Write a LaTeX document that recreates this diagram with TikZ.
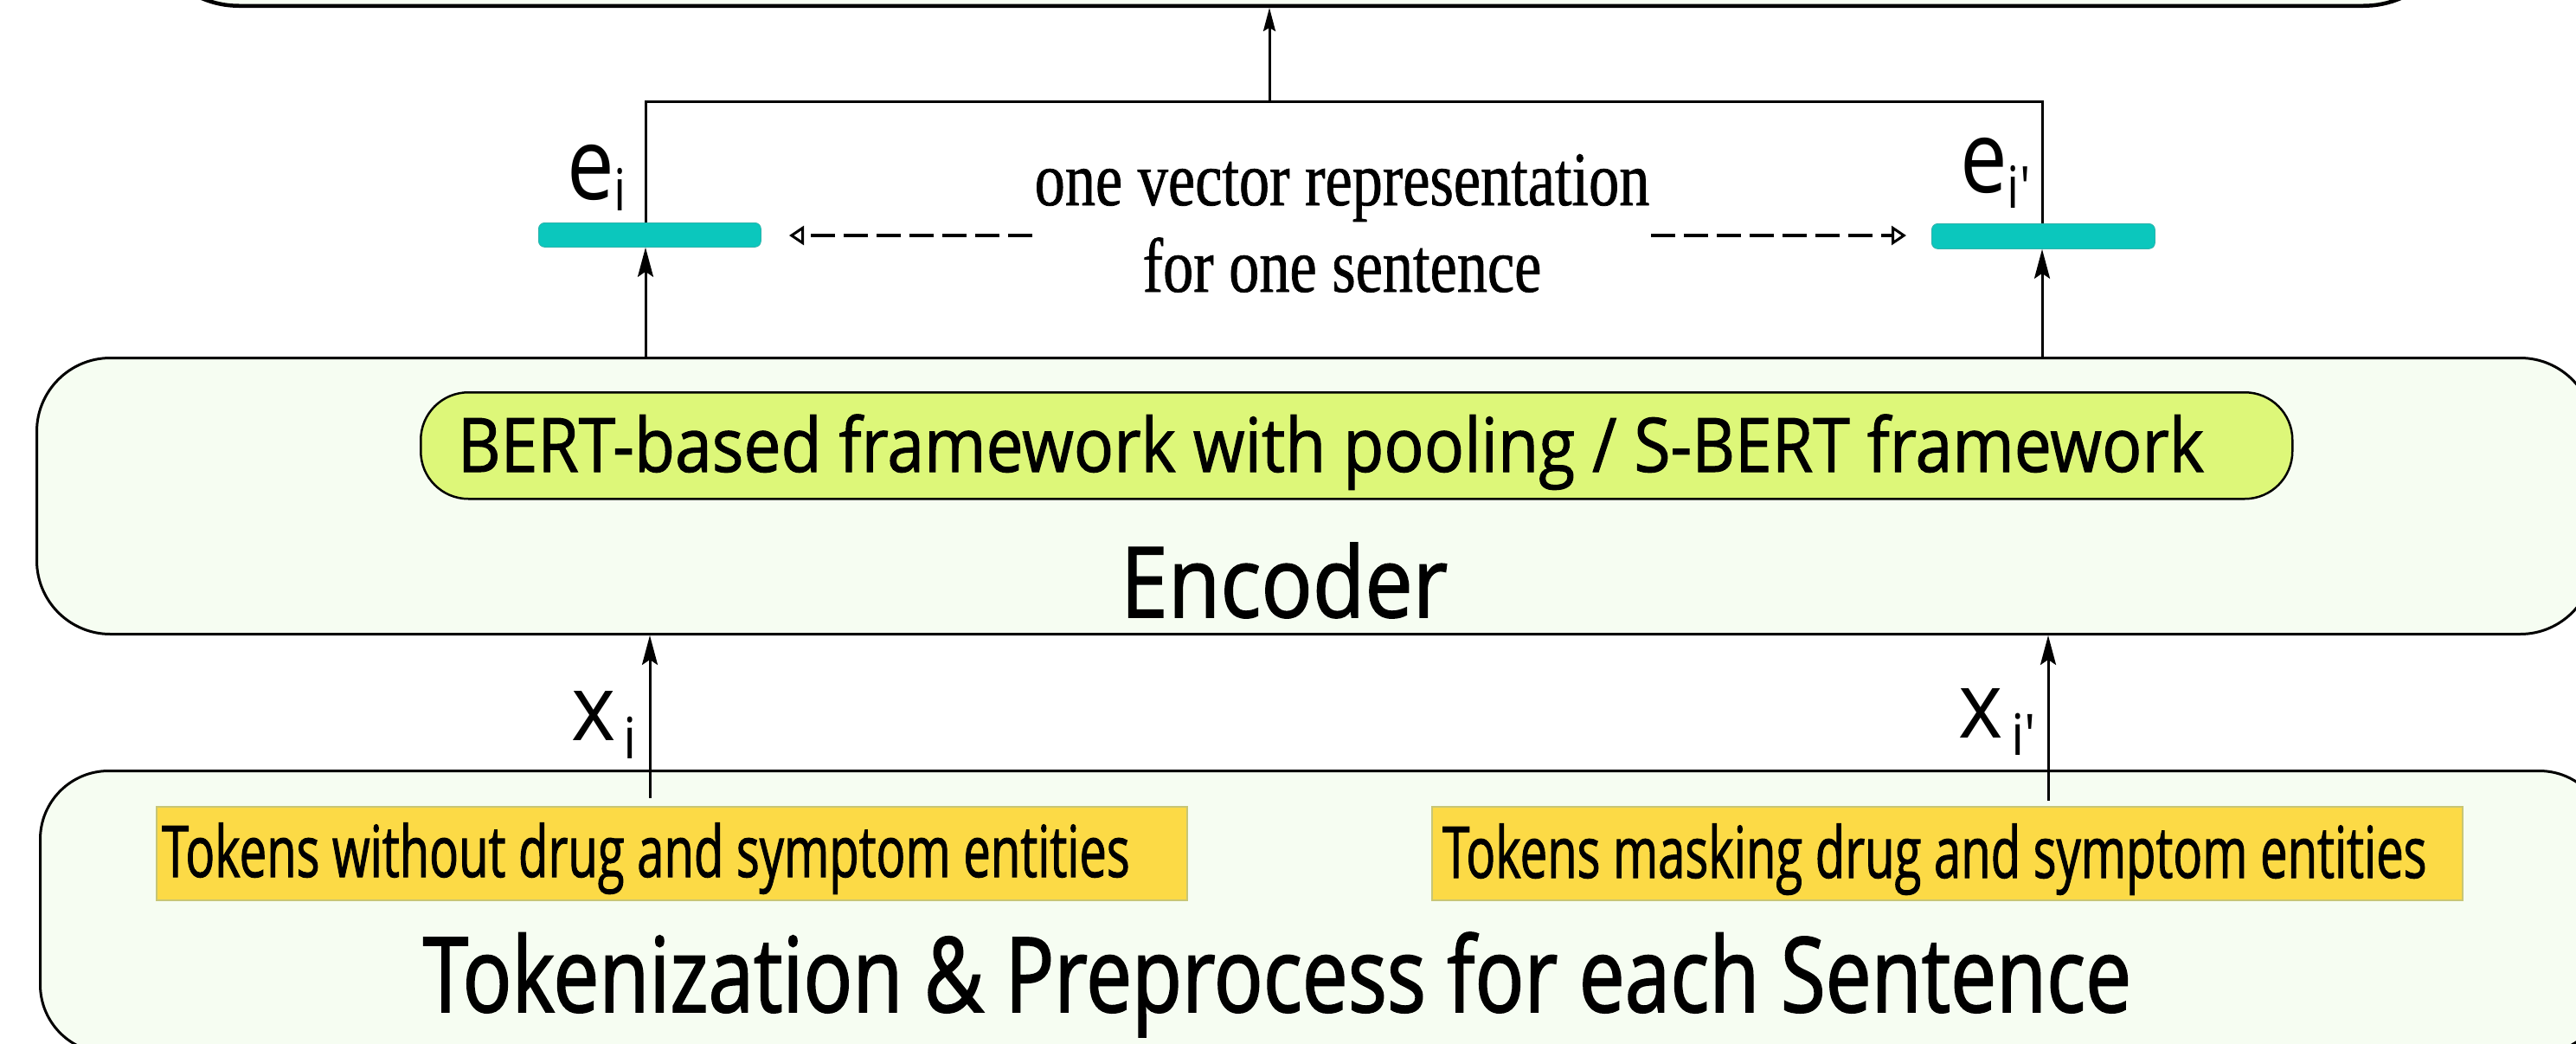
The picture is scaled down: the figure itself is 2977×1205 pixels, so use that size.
\documentclass[tikz,border=0pt]{standalone}
\usepackage{fontspec}
\usetikzlibrary{arrows.meta}
\newfontfamily\fBert{Open Sans}[FakeStretch=0.885,FakeBold=1.2]
\newfontfamily\fEnc{Open Sans}[FakeStretch=0.87,FakeBold=1.4]
\newfontfamily\fTok{Open Sans}[FakeStretch=0.785,FakeBold=1.4]
\newfontfamily\fTks{Open Sans}[FakeStretch=0.68,FakeBold=1.2]
\newfontfamily\fLabE{Open Sans}[FakeStretch=0.84,Ligatures=TeXOff]
\newfontfamily\fLabX{Open Sans}[FakeStretch=0.92,Ligatures=TeXOff]
\newfontfamily\fSer{Liberation Serif}[FakeStretch=0.79,FakeBold=0.8]
\definecolor{boxfill}{HTML}{F6FDF2}
\definecolor{bertfill}{HTML}{DDF779}
\definecolor{tokfill}{HTML}{FCDA46}
\definecolor{tokline}{HTML}{C8C675}
\definecolor{barfill}{HTML}{0BC7BD}
\tikzset{
  bigbox/.style={draw=black, line width=3pt, fill=boxfill, inner sep=0pt},
  topbox/.style={draw=black, line width=4.5pt, fill=boxfill, inner sep=0pt, rounded corners=110pt},
  bertbox/.style={draw=black, line width=2.5pt, fill=bertfill, inner sep=0pt, rounded corners=55pt},
  tokbox/.style={draw=tokline, line width=1.5pt, fill=tokfill, inner sep=0pt},
  vecbar/.style={fill=barfill, draw=barfill!70!gray, line width=0.8pt, inner sep=0pt, rounded corners=7pt},
  conn/.style={draw=black, line width=3pt},
  uparr/.style={conn, -{Stealth[length=34pt, width=18pt, inset=6pt]}},
  topuparr/.style={conn, -{Stealth[length=27pt, width=14pt, inset=4pt]}},
  dasharr/.style={draw=black, line width=4pt, dash pattern=on 28pt off 10pt, -{Triangle[open, length=17pt, width=22pt, line width=3pt]}},
  txt/.style={inner sep=0pt, text=black},
}
\begin{document}
\begin{tikzpicture}[x=1pt, y=-1pt]
\useasboundingbox (0,0) rectangle (2977,1205);
% boxes
\node[topbox, minimum width=2675pt, minimum height=400pt, anchor=south west] (top) at (164,9) {};
\node[bigbox, rounded corners=85pt, minimum width=2955pt, minimum height=319pt, anchor=north west] (enc) at (41,412) {};
\node[bigbox, rounded corners=79pt, minimum width=2967pt, minimum height=326pt, anchor=north west] (tok) at (45,889) {};
\node[bertbox, minimum width=2163pt, minimum height=123pt, anchor=north west] (bert) at (485,452) {};
\node[tokbox, minimum width=1191pt, minimum height=108pt, anchor=north west] (tokL) at (180,931) {};
\node[tokbox, minimum width=1191pt, minimum height=108pt, anchor=north west] (tokR) at (1654,931) {};
\node[vecbar, minimum width=257pt, minimum height=28pt, anchor=north west] (bL) at (622,257) {};
\node[vecbar, minimum width=258pt, minimum height=29pt, anchor=north west] (bR) at (2232,258) {};
% texts
\node[txt, anchor=base] (berttxt) at (1538,545) {\fBert\fontsize{86.8}{90}\selectfont BERT-based framework with pooling / S-BERT framework};
\node[txt, anchor=base] (enctxt) at (1484,713) {\fEnc\fontsize{113.4}{120}\selectfont Encoder};
\node[txt, anchor=base] (toktxt) at (1476,1169) {\fTok\fontsize{120.4}{130}\selectfont Tokenization \& Preprocess for each Sentence};
\node[txt, anchor=base west] (tokLtxt) at (187,1013) {\fTks\fontsize{82.6}{90}\selectfont Tokens without drug and symptom entities};
\node[txt, anchor=base west] (tokRtxt) at (1667,1014) {\fTks\fontsize{82.6}{90}\selectfont Tokens masking drug and symptom entities};
\node[txt, anchor=base] (vec1) at (1551,237) {\fSer\fontsize{89}{100}\selectfont one vector representation};
\node[txt, anchor=base] (vec2) at (1551,337) {\fSer\fontsize{89}{100}\selectfont for one sentence};
\node[txt, anchor=base west] (eL) at (655,230) {\fLabE\fontsize{116}{116}\selectfont e\raisebox{-13pt}{\fontsize{67}{67}\selectfont i}};
\node[txt, anchor=base west] (eR) at (2265,222) {\fLabE\fontsize{116}{116}\selectfont e\raisebox{-18pt}{\fontsize{67}{67}\selectfont i'}};
\node[txt, anchor=base west] (xL) at (660,855) {\fLabX\fontsize{106.5}{110}\selectfont x\kern9pt\raisebox{-21pt}{\fontsize{66}{66}\selectfont i}};
\node[txt, anchor=base west] (xR) at (2263,852) {\fLabX\fontsize{106.5}{110}\selectfont x\kern10pt\raisebox{-20pt}{\fontsize{66}{66}\selectfont i'}};
% connectors
\coordinate (xLs) at (751,922);
\coordinate (xRs) at (2367,925);
\draw[uparr] (xLs) -- (xLs |- enc.south);
\draw[uparr] (xRs) -- (xRs |- enc.south);
\coordinate (eLs) at (746,412);
\coordinate (eRs) at (2360,412);
\draw[uparr] (eLs) -- (eLs |- bL.south);
\draw[uparr] (eRs) -- (eRs |- bR.south);
\coordinate (join) at (1467,117);
\draw[conn] (eLs |- bL.north) |- (join) -| (eRs |- bR.north);
\draw[topuparr] (join) -- (join |- top.south);
\coordinate (dLs) at (1193,272);
\coordinate (dLe) at (912,272);
\coordinate (dRs) at (1908,272);
\coordinate (dRe) at (2203,272);
\draw[dasharr] (dLs) -- (dLe);
\draw[dasharr] (dRs) -- (dRe);
\end{tikzpicture}
\end{document}
